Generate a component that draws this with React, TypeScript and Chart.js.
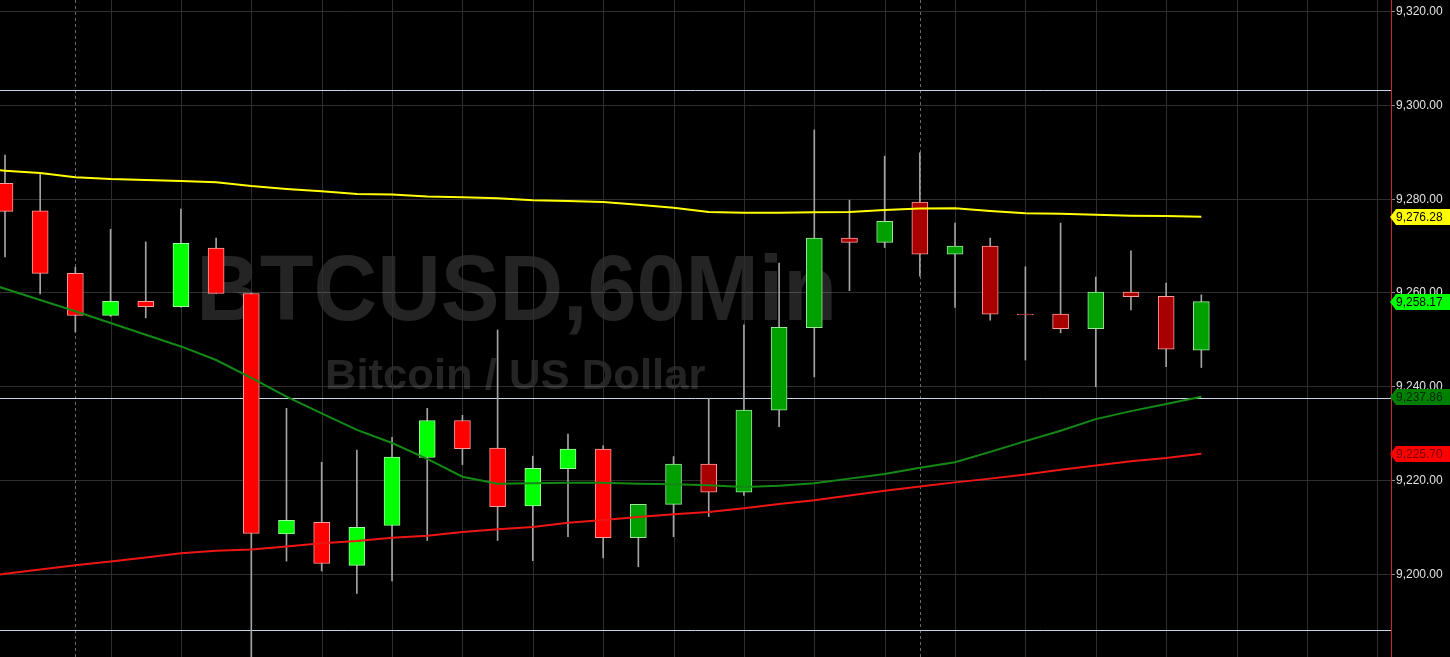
import React, { useEffect, useRef } from 'react';
import { Chart, registerables } from 'chart.js';

Chart.register(...registerables);

// ---- Data (hourly candles, BTCUSD 60 min) ----
const opens = [9283.4, 9277.5, 9264.2, 9255.2, 9258.2, 9257.1, 9269.6, 9259.9, 9208.6, 9211.1, 9201.9, 9210.4, 9224.9, 9232.8, 9226.9, 9214.6, 9222.5, 9226.7, 9207.8, 9214.9, 9223.5, 9217.5, 9235.0, 9252.6, 9271.7, 9270.8, 9279.4, 9268.3, 9270.0, 9255.5, 9255.5, 9252.4, 9260.2, 9259.3, 9247.8];
const highs = [9289.4, 9285.3, 9265.5, 9273.6, 9270.9, 9277.9, 9271.7, 9260.0, 9235.4, 9223.9, 9226.5, 9229.2, 9235.4, 9233.9, 9252.1, 9225.2, 9229.9, 9227.4, 9214.9, 9225.1, 9237.5, 9253.2, 9266.4, 9294.8, 9279.8, 9289.2, 9289.9, 9274.9, 9271.7, 9265.6, 9274.9, 9263.4, 9269.0, 9262.1, 9259.6];
const lows = [9267.7, 9259.8, 9251.7, 9255.0, 9254.7, 9257.0, 9259.9, 9180.0, 9202.8, 9200.7, 9195.9, 9198.6, 9207.2, 9223.4, 9207.2, 9202.9, 9208.0, 9203.5, 9201.6, 9208.0, 9212.3, 9216.8, 9231.5, 9242.1, 9260.5, 9269.7, 9263.6, 9256.9, 9254.2, 9245.7, 9251.5, 9240.0, 9256.4, 9244.3, 9244.1];
const closes = [9277.4, 9264.2, 9255.2, 9258.2, 9257.1, 9270.6, 9259.9, 9208.7, 9211.5, 9202.3, 9210.0, 9225.0, 9232.8, 9226.8, 9214.4, 9222.6, 9226.7, 9207.8, 9214.9, 9223.5, 9217.5, 9235.0, 9252.7, 9271.7, 9270.8, 9275.3, 9268.3, 9270.0, 9255.5, 9255.3, 9252.4, 9260.2, 9259.2, 9248.0, 9258.17];

// moving averages start one bar before the first visible candle
const maStartIndex = -1;
const maYellow = [9286.5, 9286.1, 9285.6, 9284.7, 9284.3, 9284.1, 9283.9, 9283.6, 9282.8, 9282.2, 9281.7, 9281.1, 9281.0, 9280.6, 9280.4, 9280.2, 9279.8, 9279.6, 9279.4, 9278.8, 9278.2, 9277.3, 9277.1, 9277.1, 9277.2, 9277.3, 9277.7, 9278.0, 9278.1, 9277.5, 9277.0, 9276.9, 9276.7, 9276.5, 9276.4, 9276.28];
const maGreen = [9263.4, 9260.9, 9258.5, 9256.1, 9253.6, 9251.1, 9248.6, 9245.7, 9241.9, 9237.9, 9234.3, 9230.8, 9228.0, 9224.6, 9220.8, 9219.3, 9219.4, 9219.5, 9219.5, 9219.3, 9219.2, 9219.0, 9218.6, 9218.9, 9219.4, 9220.4, 9221.4, 9222.7, 9223.9, 9226.1, 9228.4, 9230.6, 9233.1, 9234.8, 9236.3, 9237.86];
const maRed = [9199.0, 9200.1, 9201.0, 9201.9, 9202.7, 9203.6, 9204.5, 9205.0, 9205.3, 9205.9, 9206.6, 9207.1, 9207.8, 9208.2, 9209.0, 9209.6, 9210.1, 9211.0, 9211.6, 9212.2, 9212.8, 9213.3, 9214.1, 9215.0, 9215.8, 9216.8, 9217.8, 9218.7, 9219.6, 9220.4, 9221.3, 9222.3, 9223.2, 9224.1, 9224.8, 9225.70];

const yTicks = [9200, 9220, 9240, 9260, 9280, 9300, 9320];
const levelLines = [9303.3, 9237.6, 9188.1];
const gridBars = [3, 5, 7, 9, 11, 13, 15, 17, 19, 21, 23, 25, 27, 29, 31, 33, 35, 37, 39];
const sessionBreaks = [2, 26];
const brightCount = 18;
const titleText = 'BTCUSD,60Min';
const subtitleText = 'Bitcoin / US Dollar';

const X_MIN = -0.142;
const X_MAX = 39.39;
const Y_MIN = 9182.35;
const Y_MAX = 9322.5;

const FONT = "'Liberation Sans', Arial, sans-serif";

const fmt = (v: number) =>
  v.toLocaleString('en-US', { minimumFractionDigits: 2, maximumFractionDigits: 2 });

function drawFitted(ctx: CanvasRenderingContext2D, text: string, font: string, left: number, right: number, baseline: number) {
  ctx.font = font;
  ctx.textAlign = 'left';
  ctx.textBaseline = 'alphabetic';
  const m = ctx.measureText(text);
  const w = m.actualBoundingBoxLeft + m.actualBoundingBoxRight;
  const sx = (right - left) / w;
  ctx.save();
  ctx.translate(left, baseline);
  ctx.scale(sx, 1);
  ctx.fillText(text, m.actualBoundingBoxLeft, 0);
  ctx.restore();
}

const overlayPlugin = {
  id: 'overlay',
  beforeDatasetsDraw(chart: any) {
    const { ctx, chartArea: a, scales } = chart;
    const x = scales.x;
    const y = scales.y;
    ctx.save();
    ctx.beginPath();
    ctx.rect(a.left, a.top, a.right - a.left, a.bottom - a.top);
    ctx.clip();

    // watermark
    ctx.fillStyle = 'rgba(255,255,255,0.14)';
    drawFitted(ctx, titleText, `bold 92px ${FONT}`, 202, 832, 320);
    drawFitted(ctx, subtitleText, `bold 42px ${FONT}`, 327, 705, 389);

    // vertical grid
    ctx.lineWidth = 1;
    ctx.strokeStyle = '#2e2e2e';
    gridBars.forEach((i) => {
      const px = Math.round(x.getPixelForValue(i)) + 0.5;
      ctx.beginPath();
      ctx.moveTo(px, a.top);
      ctx.lineTo(px, a.bottom);
      ctx.stroke();
    });

    // session separators
    ctx.strokeStyle = '#6a6a6a';
    ctx.setLineDash([3, 3]);
    sessionBreaks.forEach((i) => {
      const px = Math.round(x.getPixelForValue(i)) + 0.5;
      ctx.beginPath();
      ctx.moveTo(px, a.top);
      ctx.lineTo(px, a.bottom);
      ctx.stroke();
    });
    ctx.setLineDash([]);

    // horizontal level lines
    ctx.strokeStyle = '#c9d3e8';
    levelLines.forEach((v) => {
      const py = Math.round(y.getPixelForValue(v)) + 0.5;
      ctx.beginPath();
      ctx.moveTo(a.left, py);
      ctx.lineTo(a.right, py);
      ctx.stroke();
    });
    ctx.restore();
  },
  afterDraw(chart: any) {
    const { ctx, chartArea: a, scales } = chart;
    const y = scales.y;
    const tags = [
      { value: maYellow[maYellow.length - 1], bg: '#ffff00', fg: '#000000' },
      { value: closes[closes.length - 1], bg: '#00ff00', fg: '#000000' },
      { value: maGreen[maGreen.length - 1], bg: '#008000', fg: '#002800' },
      { value: maRed[maRed.length - 1], bg: '#ff0000', fg: '#7a0000' },
    ];
    ctx.save();
    tags.forEach((t) => {
      const py = Math.round(y.getPixelForValue(t.value));
      const x0 = a.right;
      ctx.fillStyle = t.bg;
      ctx.beginPath();
      ctx.moveTo(x0 - 1, py);
      ctx.lineTo(x0 + 5, py - 8);
      ctx.lineTo(chart.width, py - 8);
      ctx.lineTo(chart.width, py + 8);
      ctx.lineTo(x0 + 5, py + 8);
      ctx.closePath();
      ctx.fill();
      ctx.fillStyle = t.fg;
      ctx.font = `12px ${FONT}`;
      ctx.textAlign = 'left';
      ctx.textBaseline = 'middle';
      ctx.fillText(fmt(t.value), x0 + 5, py + 1);
    });
    ctx.restore();
  },
};

export default function App() {
  const canvasRef = useRef<HTMLCanvasElement | null>(null);

  useEffect(() => {
    document.body.style.margin = '0';
    document.body.style.background = '#000';
    const canvas = canvasRef.current;
    if (!canvas) return;

    const xs = opens.map((_, i) => i);
    const up = (i: number) => closes[i] >= opens[i];
    const fill = xs.map((i) =>
      i < brightCount ? (up(i) ? '#00ff00' : '#ff0000') : (up(i) ? '#00a000' : '#a80000')
    );
    const edge = xs.map((i) =>
      up(i) ? (i < brightCount ? '#a0ffa0' : '#9ce69c') : '#ff9c9c'
    );
    const maPoints = (arr: number[]) => arr.map((v, i) => ({ x: i + maStartIndex, y: v }));

    const chart = new Chart(canvas, {
      type: 'bar',
      data: {
        datasets: [
          {
            type: 'line',
            data: maPoints(maYellow),
            borderColor: '#ffff00',
            borderWidth: 2,
            pointRadius: 0,
            tension: 0,
            order: -3,
          } as any,
          {
            type: 'line',
            data: maPoints(maGreen),
            borderColor: '#138a13',
            borderWidth: 2,
            pointRadius: 0,
            tension: 0,
            order: -2,
          } as any,
          {
            type: 'line',
            data: maPoints(maRed),
            borderColor: '#ee1515',
            borderWidth: 2,
            pointRadius: 0,
            tension: 0,
            order: -1,
          } as any,
          {
            type: 'bar',
            data: xs.map((i) => ({ x: i, y: [opens[i], closes[i]] })),
            backgroundColor: fill,
            borderColor: edge,
            borderWidth: 1,
            borderSkipped: false,
            barThickness: 16,
            minBarLength: 1,
            grouped: false,
            order: 1,
          } as any,
          {
            type: 'bar',
            data: xs.map((i) => ({ x: i, y: [lows[i], highs[i]] })),
            backgroundColor: '#a3a3a3',
            borderWidth: 0,
            barThickness: 1,
            grouped: false,
            order: 2,
          } as any,
        ],
      },
      options: {
        responsive: false,
        animation: false,
        devicePixelRatio: 1,
        events: [],
        layout: { padding: 0 },
        plugins: { legend: { display: false }, tooltip: { enabled: false } },
        scales: {
          x: {
            type: 'linear',
            display: false,
            min: X_MIN,
            max: X_MAX,
            offset: false,
          },
          y: {
            type: 'linear',
            position: 'right',
            min: Y_MIN,
            max: Y_MAX,
            afterBuildTicks: (scale: any) => {
              scale.ticks = yTicks.map((v) => ({ value: v }));
            },
            afterFit: (scale: any) => {
              scale.width = 59;
              scale.paddingTop = 0;
              scale.paddingBottom = 0;
            },
            border: { display: true, color: '#c42a2a', width: 1 },
            grid: {
              color: '#2e2e2e',
              lineWidth: 1,
              drawTicks: true,
              tickLength: 4,
              tickColor: '#8a8a8a',
            },
            ticks: {
              color: '#e2e2e2',
              padding: 1,
              font: { family: FONT, size: 12 },
              autoSkip: false,
              callback: (v: any) => fmt(Number(v)),
            },
          },
        },
      } as any,
      plugins: [overlayPlugin],
    });

    return () => chart.destroy();
  }, []);

  return (
    <div style={{ position: 'fixed', left: 0, top: 0, width: 1450, height: 657, background: '#000' }}>
      <canvas ref={canvasRef} width={1450} height={657} style={{ display: 'block', width: 1450, height: 657 }} />
    </div>
  );
}
